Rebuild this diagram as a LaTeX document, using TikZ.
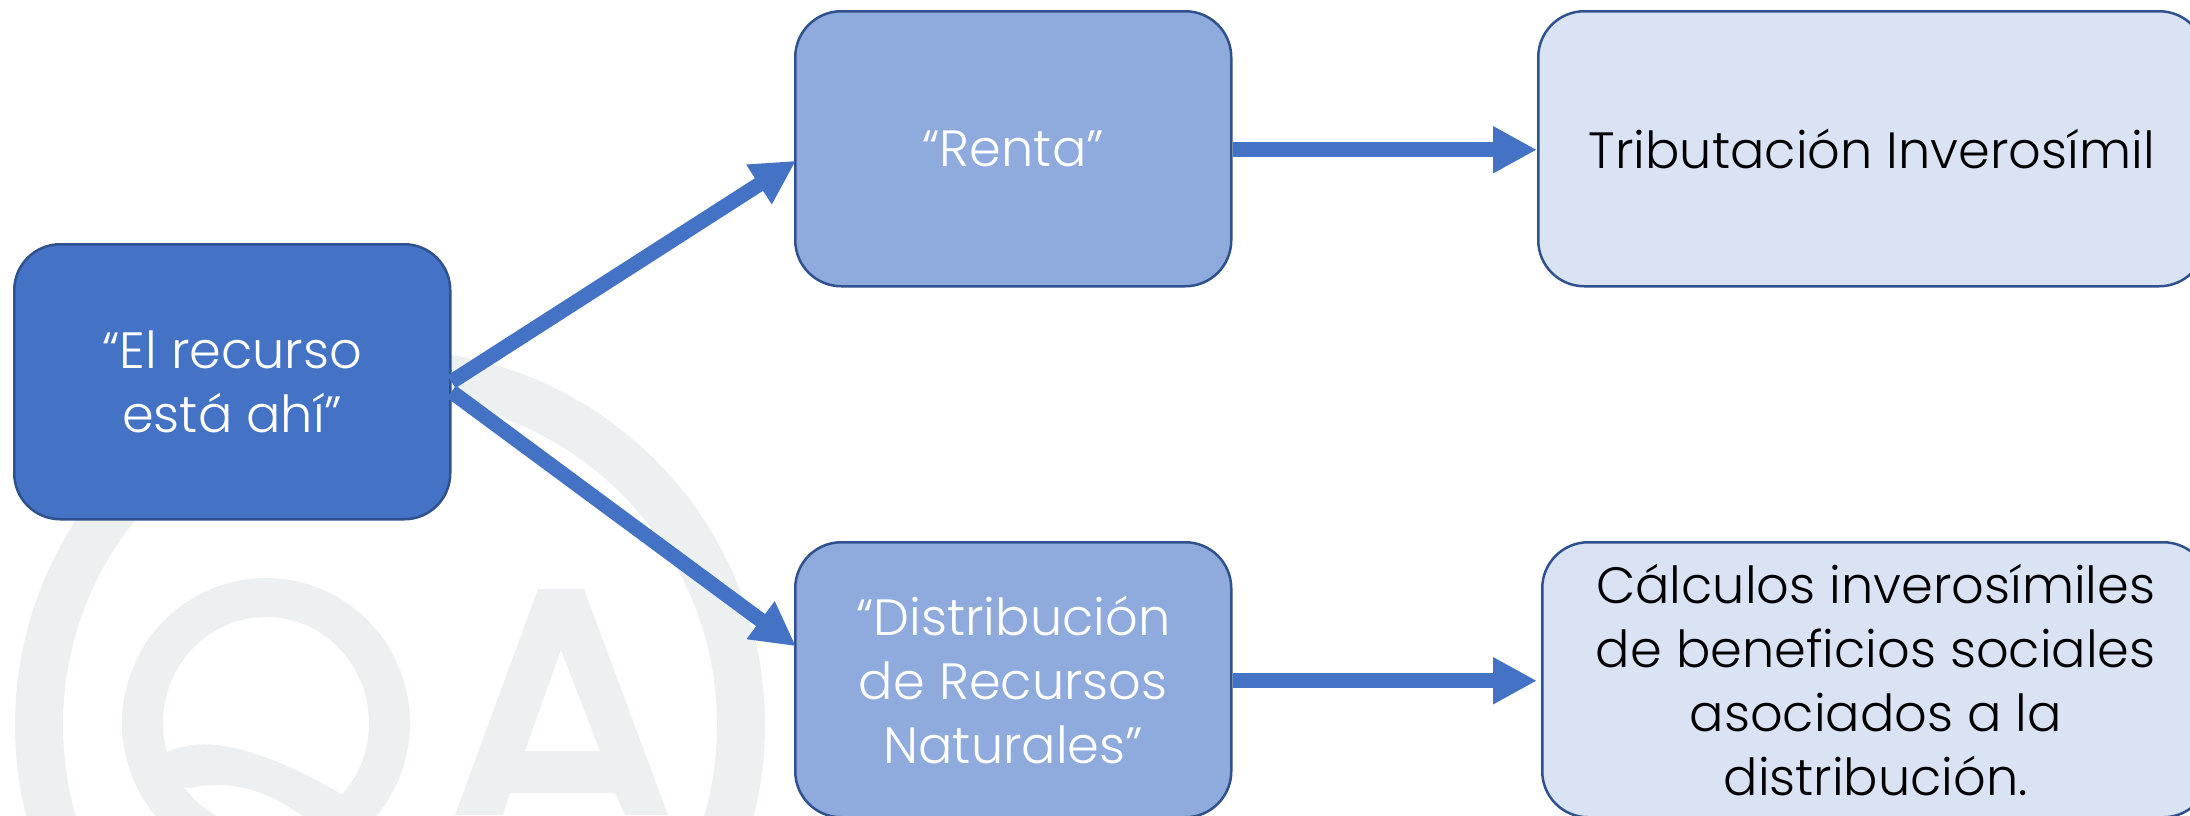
\documentclass[tikz,border=0pt]{standalone}
\usepackage{fontspec}
\setmainfont{Poppins Light}
\usetikzlibrary{arrows.meta,calc}
\definecolor{wm}{HTML}{ECF0F0}
\definecolor{dkblue}{HTML}{4472C4}
\definecolor{mdblue}{HTML}{8FAADC}
\definecolor{ltblue}{HTML}{DAE3F3}
\definecolor{edgeblue}{HTML}{2F528F}
\tikzset{
  flowbox/.style={draw=edgeblue,line width=2.5pt,rounded corners=46pt,anchor=north west,
    inner sep=0pt,align=center,font=\fontsize{51}{64}\selectfont},
  flowarrow/.style={draw=dkblue,line width=15pt,-{Triangle[length=44pt,width=44pt]}},
  wmark/.style={fill=wm,draw=none}
}
\begin{document}
\begin{tikzpicture}[x=1pt,y=-1pt]
\useasboundingbox (0,0) rectangle (2190,815);
\clip (0,0) rectangle (2190,815);
% watermark
\fill[wmark,even odd rule] (390,725) circle (375pt) (390,725) circle (327pt);
\fill[wmark,even odd rule] (266,723) ellipse [x radius=144pt,y radius=145pt]
   (266,723) ellipse [x radius=103pt,y radius=106pt];
\fill[wmark] (166,752) .. controls (195,740) and (240,735) .. (343,795) -- (420,860) -- (350,860)
   .. controls (300,805) and (250,775) .. (189,788) -- (150,780) -- (150,755) -- cycle;
\fill[wmark,even odd rule] (538,589) -- (584,589) -- (668,815) -- (625,815) -- (615,793) -- (510,793) -- (503,815) -- (455,815) -- cycle
   (561,650) -- (600,751) -- (525,751) -- cycle;
% boxes
\node[flowbox,fill=dkblue,text=white,minimum width=436pt,minimum height=275pt] (a) at (13,243) {“El recurso\\está ahí”};
\node[flowbox,fill=mdblue,text=white,minimum width=436pt,minimum height=275pt] (b) at (794,10) {“Renta”};
\node[flowbox,fill=mdblue,text=white,minimum width=436pt,minimum height=275pt] (c) at (794,541) {“Distribución\\de Recursos\\Naturales”};
\node[flowbox,fill=ltblue,text=black,minimum width=667pt,minimum height=275pt] (d) at (1537,10) {Tributación Inverosímil};
\node[flowbox,fill=ltblue,text=black,minimum width=667pt,minimum height=275pt] (e) at (1541,541) {Cálculos inverosímiles\\de beneficios sociales\\asociados a la\\distribución.};
% connectors
\draw[flowarrow] (a.east) -- ($(b.west)+(2,12)$);
\draw[flowarrow] ($(a.east)+(0,10)$) -- ($(c.west)+(2,-33.5)$);
\draw[flowarrow] ($(b.east)+(0,1)$) -- ($(d.west)+(0,1)$);
\draw[flowarrow] ($(c.east)+(0,1)$) -- ($(e.west)+(-4,1)$);
\end{tikzpicture}
\end{document}
